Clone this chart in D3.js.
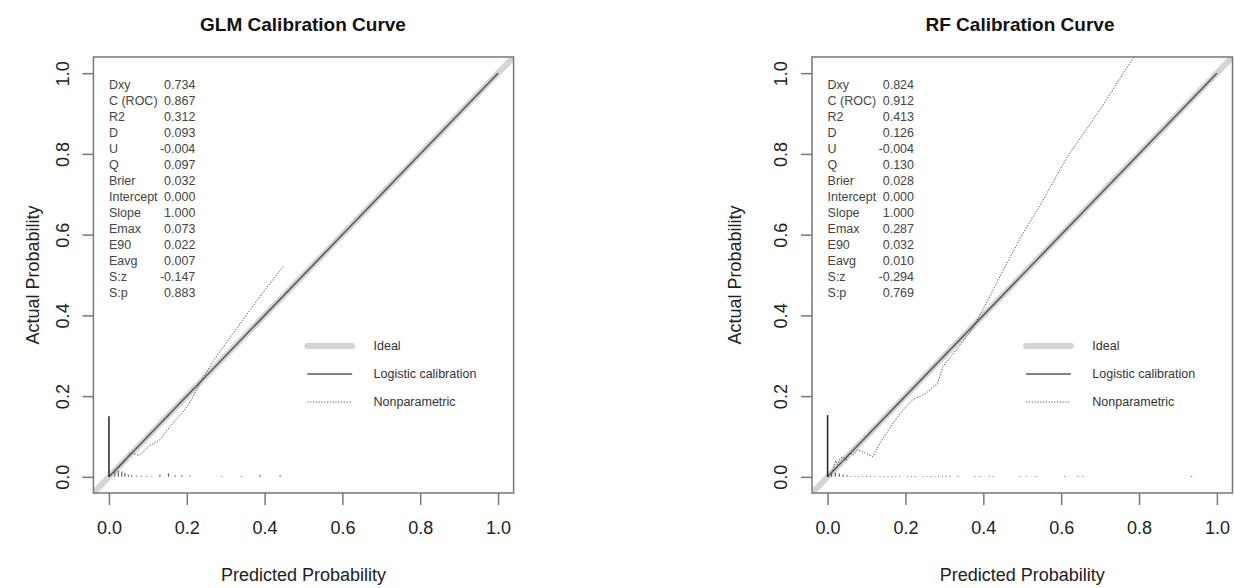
<!DOCTYPE html>
<html>
<head>
<meta charset="utf-8">
<script src="https://cdn.jsdelivr.net/npm/d3@7"></script>
<style>
  body { margin: 0; background: #fff; }
  svg { display: block; font-family: "Liberation Sans", Arial, sans-serif; }
</style>
</head>
<body>
<div id="chart"></div>
<script>
// ---- data ----
var panelTitles = ["GLM Calibration Curve", "RF Calibration Curve"];
var statNames = ["Dxy", "C (ROC)", "R2", "D", "U", "Q", "Brier", "Intercept", "Slope", "Emax", "E90", "Eavg", "S:z", "S:p"];
var glmStats = ["0.734", "0.867", "0.312", "0.093", "-0.004", "0.097", "0.032", "0.000", "1.000", "0.073", "0.022", "0.007", "-0.147", "0.883"];
var rfStats  = ["0.824", "0.912", "0.413", "0.126", "-0.004", "0.130", "0.028", "0.000", "1.000", "0.287", "0.032", "0.010", "-0.294", "0.769"];

var tickValues = [0, 0.2, 0.4, 0.6, 0.8, 1.0];
var legendLabels = ["Ideal", "Logistic calibration", "Nonparametric"];

// nonparametric (loess) curves
var glmCurveX = [0, 0.011, 0.022, 0.037, 0.054, 0.062, 0.078, 0.101, 0.131, 0.157, 0.183, 0.204, 0.225, 0.240, 0.270, 0.300, 0.330, 0.362, 0.400, 0.448];
var glmCurveY = [0, 0.009, 0.020, 0.034, 0.059, 0.058, 0.053, 0.075, 0.092, 0.125, 0.153, 0.178, 0.215, 0.243, 0.290, 0.330, 0.370, 0.413, 0.462, 0.521];
var rfCurveX = [0, 0.008, 0.014, 0.020, 0.026, 0.032, 0.039, 0.047, 0.056, 0.066, 0.077, 0.095, 0.116, 0.134, 0.168, 0.194, 0.219, 0.253, 0.283, 0.296, 0.330, 0.373, 0.412, 0.450, 0.500, 0.550, 0.614, 0.700, 0.800];
var rfCurveY = [0, 0.010, 0.017, 0.040, 0.030, 0.045, 0.050, 0.040, 0.059, 0.055, 0.067, 0.060, 0.050, 0.083, 0.133, 0.166, 0.191, 0.207, 0.232, 0.273, 0.314, 0.368, 0.438, 0.510, 0.600, 0.680, 0.790, 0.910, 1.060];

// spike histogram of predicted probabilities (tall spike at 0 plus small ones)
var glmSpikeX = [0, 0.015, 0.024, 0.033, 0.041, 0.050, 0.058, 0.071, 0.084, 0.097, 0.110, 0.131, 0.153, 0.170, 0.187, 0.208, 0.290, 0.341, 0.388, 0.440];
var glmSpikeH = [0.150, 0.018, 0.016, 0.013, 0.010, 0.005, 0.004, 0.003, 0.003, 0.002, 0.002, 0.006, 0.009, 0.004, 0.004, 0.003, 0.002, 0.002, 0.005, 0.004];
var rfSpikeX = [0, 0.010, 0.020, 0.030, 0.040, 0.050, 0.060, 0.070, 0.080, 0.090, 0.100, 0.110, 0.120, 0.135, 0.145, 0.155, 0.165, 0.175, 0.185, 0.205, 0.215, 0.225, 0.245, 0.255, 0.265, 0.275, 0.285, 0.295, 0.305, 0.315, 0.335, 0.378, 0.391, 0.416, 0.425, 0.494, 0.510, 0.536, 0.609, 0.643, 0.656, 0.935];
var rfSpikeH = [0.153, 0.012, 0.010, 0.008, 0.006, 0.004, 0.002, 0.002, 0.002, 0.002, 0.002, 0.002, 0.002, 0.002, 0.002, 0.002, 0.002, 0.002, 0.002, 0.002, 0.002, 0.002, 0.002, 0.002, 0.002, 0.002, 0.002, 0.002, 0.002, 0.002, 0.002, 0.002, 0.002, 0.002, 0.002, 0.002, 0.002, 0.002, 0.002, 0.002, 0.002, 0.002];

// ---- layout ----
var W = 1234, H = 588;
var panels = [
  { title: panelTitles[0], stats: glmStats, cx: glmCurveX, cy: glmCurveY, sx: glmSpikeX, sh: glmSpikeH,
    left: 93.4, right: 513.6, titleX: 303, ylabX: 33 },
  { title: panelTitles[1], stats: rfStats, cx: rfCurveX, cy: rfCurveY, sx: rfSpikeX, sh: rfSpikeH,
    left: 812, right: 1232.5, titleX: 1020, ylabX: 735 }
];
var plotTop = 57, plotBottom = 493;

var svg = d3.select("#chart").append("svg")
  .attr("width", W).attr("height", H);

panels.forEach(function(p, i){
  var x = d3.scaleLinear().domain([-0.04, 1.04]).range([p.left, p.right]);
  var y = d3.scaleLinear().domain([-0.04, 1.04]).range([plotBottom, plotTop]);
  var g = svg.append("g");

  // clip to plot box
  var clipId = "clip" + i;
  svg.append("clipPath").attr("id", clipId).append("rect")
    .attr("x", p.left).attr("y", plotTop)
    .attr("width", p.right - p.left).attr("height", plotBottom - plotTop);
  var plot = g.append("g").attr("clip-path", "url(#" + clipId + ")");

  // ideal line
  plot.append("line")
    .attr("x1", x(-0.04)).attr("y1", y(-0.04))
    .attr("x2", x(1.04)).attr("y2", y(1.04))
    .attr("stroke", "#d4d4d4").attr("stroke-width", 6).attr("stroke-linecap", "round");

  // logistic calibration (intercept 0, slope 1)
  plot.append("line")
    .attr("x1", x(0)).attr("y1", y(0))
    .attr("x2", x(1)).attr("y2", y(1))
    .attr("stroke", "#555").attr("stroke-width", 1.5);

  // nonparametric
  var line = d3.line().x(function(d){ return x(d[0]); }).y(function(d){ return y(d[1]); });
  plot.append("path")
    .datum(d3.zip(p.cx, p.cy))
    .attr("fill", "none")
    .attr("stroke", "#444")
    .attr("stroke-width", 1)
    .attr("stroke-dasharray", "1.2,1.6")
    .attr("d", line);

  // spikes
  plot.selectAll(".spike").data(d3.zip(p.sx, p.sh)).enter().append("line")
    .attr("x1", function(d){ return x(d[0]); })
    .attr("x2", function(d){ return x(d[0]); })
    .attr("y1", y(0))
    .attr("y2", function(d){ return y(d[1]); })
    .attr("stroke", function(d, j){ return j == 0 ? "#222" : "#666"; })
    .attr("stroke-width", function(d, j){ return j == 0 ? 1.5 : 1.2; });

  // box
  g.append("rect")
    .attr("x", p.left).attr("y", plotTop)
    .attr("width", p.right - p.left).attr("height", plotBottom - plotTop)
    .attr("fill", "none").attr("stroke", "#777").attr("stroke-width", 1.5);

  // axes
  var xa = g.append("g").attr("transform", "translate(0," + plotBottom + ")")
    .call(d3.axisBottom(x).tickValues(tickValues).tickFormat(d3.format(".1f")).tickSize(12).tickPadding(10));
  var ya = g.append("g").attr("transform", "translate(" + p.left + ",0)")
    .call(d3.axisLeft(y).tickValues(tickValues).tickFormat(d3.format(".1f")).tickSize(11));
  [xa, ya].forEach(function(a){
    a.select(".domain").remove();
    a.selectAll(".tick line").attr("stroke", "#777").attr("stroke-width", 1.5);
    a.selectAll(".tick text").attr("fill", "#222").style("font-size", "18px")
      .style("font-family", "'Liberation Sans', Arial, sans-serif");
  });
  xa.selectAll(".tick text").attr("y", 35).attr("dy", "0.35em");
  ya.selectAll(".tick text")
    .attr("transform", "rotate(-90)")
    .attr("x", 0).attr("y", -31).attr("dy", "0.35em")
    .attr("text-anchor", "middle");

  // titles
  g.append("text").attr("x", p.titleX).attr("y", 24).attr("dy", "0.35em")
    .attr("text-anchor", "middle").attr("font-weight", "bold")
    .style("font-size", "19px").attr("fill", "#111").text(p.title);
  g.append("text").attr("x", (p.left + p.right) / 2).attr("y", 575).attr("dy", "0.35em")
    .attr("text-anchor", "middle").style("font-size", "18px").attr("fill", "#222")
    .text("Predicted Probability");
  g.append("text")
    .attr("transform", "translate(" + p.ylabX + "," + ((plotTop + plotBottom) / 2) + ") rotate(-90)")
    .attr("dy", "0.35em").attr("text-anchor", "middle")
    .style("font-size", "18px").attr("fill", "#222").text("Actual Probability");

  // stats block
  var st = g.append("g").style("font-size", "12.5px").attr("fill", "#444");
  statNames.forEach(function(name, k){
    var yy = 85 + k * 16;
    st.append("text").attr("x", x(0)).attr("y", yy).attr("dy", "0.35em").text(name);
    st.append("text").attr("x", x(0.222)).attr("y", yy).attr("dy", "0.35em")
      .attr("text-anchor", "end").text(p.stats[k]);
  });

  // legend
  var lg = g.append("g");
  var ly0 = y(0.324);
  legendLabels.forEach(function(lab, k){
    var yy = ly0 + k * 28;
    var ln = lg.append("line")
      .attr("x1", x(0.51)).attr("x2", x(0.625))
      .attr("y1", yy).attr("y2", yy);
    if(k == 0){
      ln.attr("stroke", "#d4d4d4").attr("stroke-width", 6).attr("stroke-linecap", "round");
    } else if(k == 1){
      ln.attr("stroke", "#555").attr("stroke-width", 1.5);
    } else {
      ln.attr("stroke", "#555").attr("stroke-width", 1).attr("stroke-dasharray", "1.2,1.6");
    }
    lg.append("text").attr("x", x(0.68)).attr("y", yy).attr("dy", "0.35em")
      .style("font-size", "12.5px").attr("fill", "#333").text(lab);
  });
});
</script>
</body>
</html>
